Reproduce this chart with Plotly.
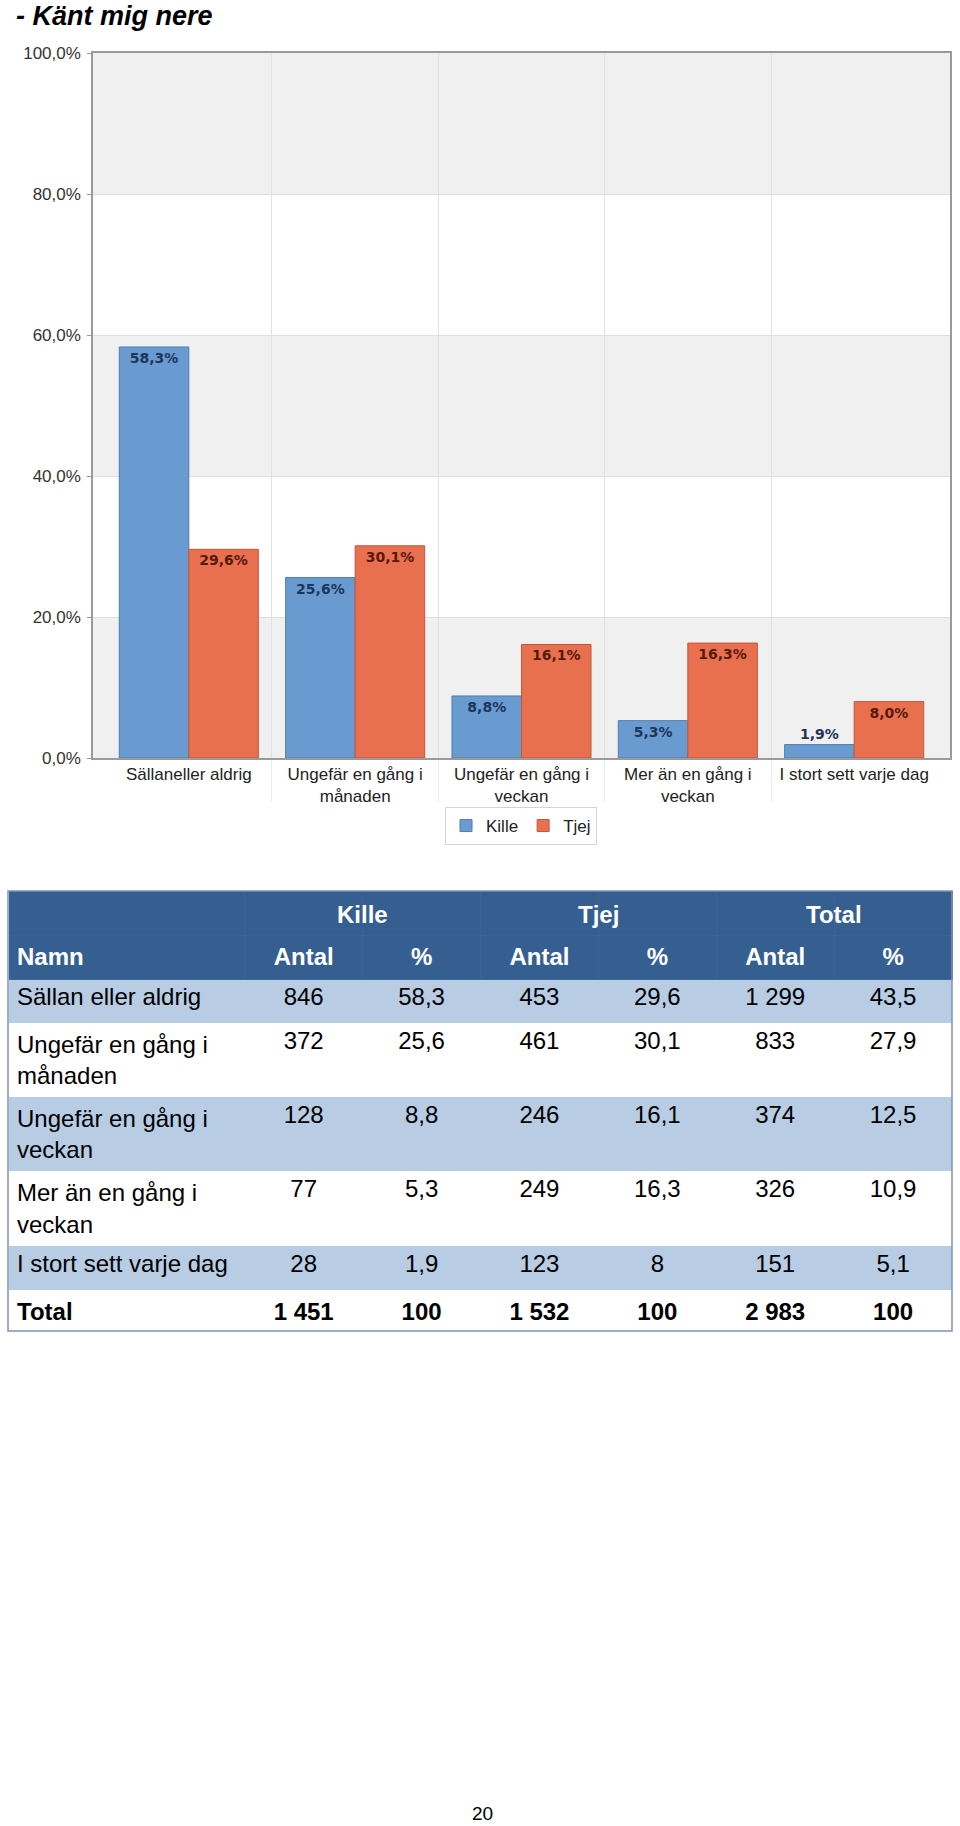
import plotly.graph_objects as go

# ---------------- data ----------------
categories = ["Sällaneller aldrig", "Ungefär en gång i<br>månaden", "Ungefär en gång i<br>veckan",
              "Mer än en gång i<br>veckan", "I stort sett varje dag"]
kille_pct = [58.3, 25.6, 8.8, 5.3, 1.9]
tjej_pct = [29.6, 30.1, 16.1, 16.3, 8.0]
y_ticks = [0, 20, 40, 60, 80, 100]

row_names = ["Sällan eller aldrig", "Ungefär en gång i<br>månaden", "Ungefär en gång i<br>veckan",
             "Mer än en gång i<br>veckan", "I stort sett varje dag", "Total"]
kille_antal = [846, 372, 128, 77, 28, 1451]
kille_tab_pct = [58.3, 25.6, 8.8, 5.3, 1.9, 100]
tjej_antal = [453, 461, 246, 249, 123, 1532]
tjej_tab_pct = [29.6, 30.1, 16.1, 16.3, 8, 100]
total_antal = [1299, 833, 374, 326, 151, 2983]
total_tab_pct = [43.5, 27.9, 12.5, 10.9, 5.1, 100]
group_labels = ["Kille", "Tjej", "Total"]
sub_labels = ["Namn", "Antal", "%", "Antal", "%", "Antal", "%"]

W, H = 960, 1826
FONT = "Liberation Sans, Arial"


def py(px):
    return 1 - px / H


def fmt_n(v):
    return f"{v:,}".replace(",", " ")


def fmt_p(v):
    return str(int(v)) if float(v).is_integer() else f"{v:.1f}".replace(".", ",")


xpos = list(range(len(categories)))
bounds = [i + 0.5 for i in xpos[:-1]]
y_ticktext = [f"{v:.1f}%".replace(".", ",") for v in y_ticks]

fig = go.Figure()

fig.add_trace(go.Bar(
    x=xpos, y=kille_pct, name="Kille",
    marker=dict(color="#6a9bd0", line=dict(color="#4f7db0", width=1)),
    texttemplate="<b>%{y:.1f}%</b>", textposition="auto", insidetextanchor="end",
    textangle=0, constraintext="none", cliponaxis=False,
    textfont=dict(family="DejaVu Sans", size=14, color="#1c355a"),
))
fig.add_trace(go.Bar(
    x=xpos, y=tjej_pct, name="Tjej",
    marker=dict(color="#e8704f", line=dict(color="#c4573a", width=1)),
    texttemplate="<b>%{y:.1f}%</b>", textposition="auto", insidetextanchor="end",
    textangle=0, constraintext="none", cliponaxis=False,
    textfont=dict(family="DejaVu Sans", size=14, color="#561a0c"),
))

# alternating background bands
shapes = []
for i in range(0, len(y_ticks) - 1, 2):
    shapes.append(dict(type="rect", xref="x domain", yref="y", x0=0, x1=1,
                       y0=y_ticks[i], y1=y_ticks[i + 1], fillcolor="#f0f0f0",
                       line=dict(width=0), layer="below"))

# ---------------- table ----------------
nrows = len(row_names)
light, white = "#b8cce4", "#ffffff"
row_fill = [light if i % 2 == 0 else white for i in range(nrows - 1)] + [white]


def bold_last(vals):
    return [f"<b>{v}</b>" if i == nrows - 1 else v for i, v in enumerate(vals)]


cols = [
    bold_last(row_names),
    bold_last([fmt_n(v) for v in kille_antal]),
    bold_last([fmt_p(v) for v in kille_tab_pct]),
    bold_last([fmt_n(v) for v in tjej_antal]),
    bold_last([fmt_p(v) for v in tjej_tab_pct]),
    bold_last([fmt_n(v) for v in total_antal]),
    bold_last([fmt_p(v) for v in total_tab_pct]),
]
ncols = len(cols)
fill2d = [row_fill for _ in range(ncols)]

tbl_left, tbl_right, tbl_top = 9, 952, 891
TFS = 24
cw = [236] + [118] * 6
fig.add_trace(go.Table(
    domain=dict(x=[tbl_left / W, tbl_right / W], y=[0.05, py(tbl_top)]),
    columnwidth=cw,
    header=dict(
        values=[["", f"<b>{s}</b>"] for s in sub_labels],
        fill_color="#365f91", line=dict(color="#3c6395", width=1),
        font=dict(family=FONT, size=TFS, color="white"),
        align=["left"] + ["center"] * 6, height=44,
    ),
    cells=dict(
        values=cols,
        fill_color=fill2d, line=dict(color=fill2d, width=0),
        font=dict(family=FONT, size=TFS, color="black"),
        align=["left"] + ["center"] * 6, height=44,
    ),
))

annotations = [
    dict(text="<b><i>- Känt mig nere</i></b>", xref="paper", yref="paper",
         x=14 / W, y=py(16), xanchor="left", yanchor="middle", showarrow=False,
         font=dict(family=FONT, size=27, color="black")),
    dict(text="20", xref="paper", yref="paper", x=482 / W, y=py(1813),
         xanchor="center", yanchor="middle", showarrow=False,
         font=dict(family=FONT, size=19, color="black")),
]
# spanning header labels
tbl_w = tbl_right - tbl_left
edges = [tbl_left]
for c in cw:
    edges.append(edges[-1] + c * tbl_w / sum(cw))
for gi, g in enumerate(group_labels):
    cx = edges[1 + 2 * gi + 1]
    annotations.append(dict(text=f"<b>{g}</b>", xref="paper", yref="paper",
                            x=cx / W, y=py(tbl_top + 23), xanchor="center", yanchor="middle",
                            showarrow=False,
                            font=dict(family=FONT, size=TFS, color="white")))

shapes.append(dict(type="rect", xref="paper", yref="paper",
                   x0=(tbl_left - 1) / W, x1=tbl_right / W, y0=py(1331), y1=py(tbl_top),
                   line=dict(color="#7f93b0", width=1.5), fillcolor="rgba(0,0,0,0)"))

fig.update_layout(
    template="none",
    width=W, height=H, margin=dict(l=0, r=0, t=0, b=0, pad=0, autoexpand=False),
    paper_bgcolor="white", plot_bgcolor="white",
    separators=", ",
    barmode="group", bargap=0.164, bargroupgap=0,
    font=dict(family=FONT, color="#222"),
    showlegend=True,
    legend=dict(orientation="h", x=521 / W, xanchor="center", y=py(807), yanchor="top",
                bordercolor="#d4d4d4", borderwidth=1, bgcolor="white",
                font=dict(size=17, color="#222"), traceorder="normal"),
    shapes=shapes, annotations=annotations,
    xaxis=dict(domain=[93 / W, 950 / W], range=[-0.576, 4.576], automargin=False,
               tickvals=xpos, ticktext=categories, ticks="", showgrid=False,
               tickfont=dict(size=17, color="#222"),
               minor=dict(tickvals=bounds, showgrid=True, gridcolor="#e2e2e2", gridwidth=1,
                          ticks="outside", ticklen=42, tickcolor="#ececec"),
               showline=True, linecolor="#9a9a9a", linewidth=1.5, mirror=True,
               zeroline=False, fixedrange=True),
    yaxis=dict(domain=[py(758), py(53)], range=[0, 100], automargin=False,
               tickvals=y_ticks, ticktext=y_ticktext,
               ticks="outside", ticklen=4, tickcolor="#999", ticklabelstandoff=3,
               tickfont=dict(size=17, color="#333"),
               showgrid=True, gridcolor="#dedede", gridwidth=1, zeroline=False,
               showline=True, linecolor="#9a9a9a", linewidth=1.5, mirror=True,
               fixedrange=True),
)

fig.write_html("out.html")
